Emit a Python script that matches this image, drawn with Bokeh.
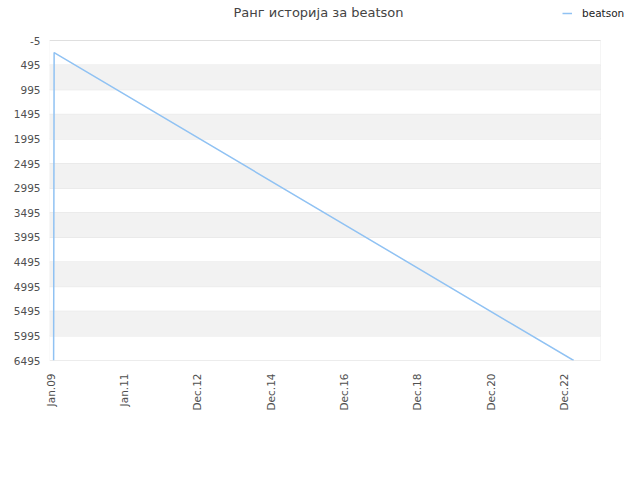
from datetime import datetime, timedelta
from math import pi
from bokeh.plotting import figure
from bokeh.models import (Range1d, FixedTicker, DatetimeTickFormatter, BoxAnnotation,
                          Label, Legend, LegendItem)
from bokeh.embed import file_html
from bokeh.resources import INLINE

# Data
series_name = "beatson"
dates = [datetime(2009, 2, 1), datetime(2009, 2, 6), datetime(2023, 4, 5)]
ranks = [6495, 240, 6495]
y_ticks = [-5 + 500 * i for i in range(14)]
x_tick_dates = [datetime(2009, 1, 1) + timedelta(days=730 * i) for i in range(8)]
title_text = "Ранг историја за beatson"
line_color = "#90c2f3"

def ms(d):
    return (d - datetime(1970, 1, 1)).total_seconds() * 1000.0

# Layout geometry (pixels)
W, H = 632, 472
LEFT, BOTTOM = 49, 112
CHART_TOP, CHART_RIGHT = 40, 600          # chart box inside the canvas
frame_w, frame_h = W - LEFT, H - BOTTOM    # frame covers header too

x0, x1 = ms(datetime(2008, 12, 22)), ms(datetime(2023, 12, 28))
y_bot, y_top = y_ticks[-1], y_ticks[0]
px_x = (x1 - x0) / (CHART_RIGHT - LEFT)
px_y = (y_bot - y_top) / (frame_h - CHART_TOP)
x_end_frame = x1 + (W - CHART_RIGHT) * px_x
y_top_frame = y_top - CHART_TOP * px_y

p = figure(width=W, height=H, output_backend="svg", toolbar_location=None,
           x_axis_type="datetime", title_location=None,
           x_range=Range1d(x0, x_end_frame), y_range=Range1d(y_bot, y_top_frame))
p.min_border_left = LEFT
p.min_border_right = 0
p.min_border_top = 0
p.min_border_bottom = BOTTOM
p.background_fill_color = "white"
p.border_fill_color = "white"
p.outline_line_color = None

# alternating bands
for i in range(1, len(y_ticks) - 1, 2):
    p.add_layout(BoxAnnotation(bottom=y_ticks[i], top=y_ticks[i + 1], left=x0, right=x1,
                               fill_color="#f2f2f2", fill_alpha=1.0, line_color=None,
                               level="underlay"))
# grid lines
p.segment(x0=[x0] * len(y_ticks), x1=[x1] * len(y_ticks), y0=y_ticks, y1=y_ticks,
          line_color="#e0e0e0", line_width=1, level="underlay")
# chart box
p.add_layout(BoxAnnotation(bottom=y_bot, top=y_top, left=x0, right=x1,
                           fill_alpha=0, line_color="#dddddd", line_width=1))

r = p.line([ms(d) for d in dates], ranks, line_color=line_color, line_width=1.5)

p.yaxis.ticker = FixedTicker(ticks=y_ticks)
p.yaxis.major_label_overrides = {t: str(t) for t in y_ticks}
p.xaxis.ticker = FixedTicker(ticks=[ms(d) for d in x_tick_dates])
fmt = "%b.%y"
p.xaxis.formatter = DatetimeTickFormatter(milliseconds=fmt, seconds=fmt, minsec=fmt,
                                          minutes=fmt, hourmin=fmt, hours=fmt, days=fmt,
                                          months=fmt, years=fmt)
p.xaxis.major_label_orientation = pi / 2

for ax in (p.xaxis, p.yaxis):
    ax.axis_line_color = None
    ax.major_tick_line_color = None
    ax.minor_tick_line_color = None
    ax.major_tick_out = 0
    ax.major_tick_in = 0
    ax.major_label_text_font = "DejaVu Sans"
    ax.major_label_text_font_size = "10.5px"
    ax.major_label_text_color = "#505050"
p.yaxis.major_label_standoff = 9
p.xaxis.major_label_standoff = 13
p.grid.visible = False

# title (screen units relative to frame bottom-left)
p.add_layout(Label(x=318 - LEFT, y=frame_h - 12, x_units="screen", y_units="screen",
                   text=title_text, text_font="DejaVu Sans", text_font_size="13px",
                   text_color="#444444", text_align="center", text_baseline="middle"))

legend = Legend(items=[LegendItem(label=series_name, renderers=[r])],
                location=(562 - LEFT, frame_h - 20), border_line_color=None,
                background_fill_alpha=0, label_text_font="DejaVu Sans",
                label_text_font_size="10.5px", label_text_color="#222222",
                glyph_width=10, glyph_height=14, label_height=14, padding=0, margin=0,
                label_standoff=10)
p.add_layout(legend, "center")

open("out.html", "w").write(file_html(p, INLINE))
